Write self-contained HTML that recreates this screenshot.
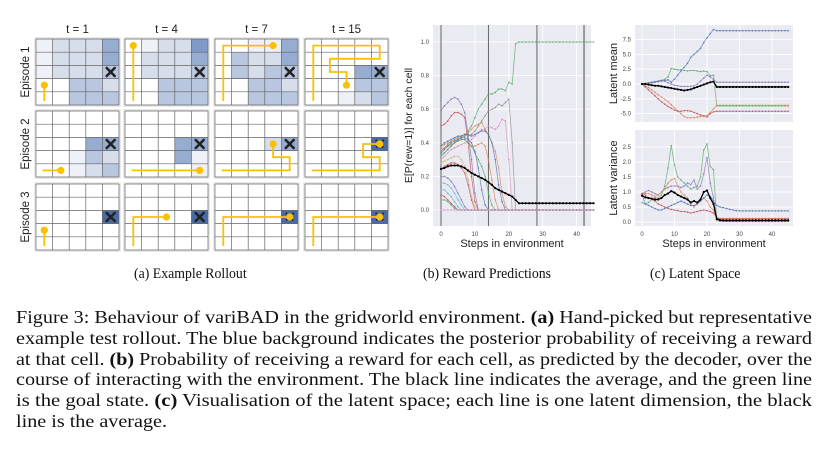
<!DOCTYPE html>
<html><head><meta charset="utf-8">
<style>
body{margin:0;background:#fff;width:827px;height:459px;overflow:hidden;position:relative;font-family:"Liberation Serif",serif}
#cap{position:absolute;left:16px;top:307px;width:796px;color:#111}
.ln{display:block;white-space:nowrap;font-size:18px;line-height:20.8px;height:20.8px;transform-origin:0 0}
.sub{position:absolute;top:266px;font-size:15px;color:#111;white-space:nowrap;transform-origin:0 0;transform:scaleX(0.92)}
</style></head><body>
<svg id="fig" width="827" height="300" style="position:absolute;left:0;top:0" xmlns="http://www.w3.org/2000/svg"></svg>
<div class="sub" style="left:134px">(a) Example Rollout</div>
<div class="sub" style="left:423px">(b) Reward Predictions</div>
<div class="sub" style="left:650px">(c) Latent Space</div>
<div id="cap">
<span class="ln">Figure 3: Behaviour of variBAD in the gridworld environment. <b>(a)</b> Hand-picked but representative</span>
<span class="ln">example test rollout. The blue background indicates the posterior probability of receiving a reward</span>
<span class="ln">at that cell. <b>(b)</b> Probability of receiving a reward for each cell, as predicted by the decoder, over the</span>
<span class="ln">course of interacting with the environment. The black line indicates the average, and the green line</span>
<span class="ln">is the goal state. <b>(c)</b> Visualisation of the latent space; each line is one latent dimension, the black</span>
<span class="ln" data-last="1">line is the average.</span>
</div>
<script>
// ---------- gridworld data ----------
const timeLabels=["t = 1","t = 4","t = 7","t = 15"];
const episodeLabels=["Episode 1","Episode 2","Episode 3"];
const shades=[
 [[[1,2,2,2,4],[1,2,2,2,4],[1,2,2,2,3],[0,0,3,3,2],[0,0,3,3,3]],
  [[0,1,2,2,5],[0,2,2,2,4],[0,2,2,2,3],[0,0,3,3,3],[0,0,3,3,3]],
  [[0,0,1,1,4],[0,3,2,2,4],[0,3,2,3,3],[0,0,3,3,2],[0,0,3,3,3]],
  [[0,0,0,0,0],[0,0,0,0,0],[0,0,0,4,4],[0,0,0,3,3],[0,0,1,2,3]]],
 [[[0,0,0,0,0],[0,0,0,0,0],[0,0,0,4,4],[0,0,1,3,2],[0,0,1,2,3]],
  [[0,0,0,0,0],[0,0,0,0,0],[0,0,0,4,4],[0,0,0,4,1],[0,0,0,0,1]],
  [[0,0,0,0,0],[0,0,0,0,0],[0,0,0,2,4],[0,0,0,0,0],[0,0,0,0,0]],
  [[0,0,0,0,0],[0,0,0,0,0],[0,0,0,0,6],[0,0,0,0,0],[0,0,0,0,0]]],
 [[[0,0,0,0,0],[0,0,0,0,0],[0,0,0,0,6],[0,0,0,0,0],[0,0,0,0,0]],
  [[0,0,0,0,0],[0,0,0,0,0],[0,0,0,0,6],[0,0,0,0,0],[0,0,0,0,0]],
  [[0,0,0,0,0],[0,0,0,0,0],[0,0,0,0,6],[0,0,0,0,0],[0,0,0,0,0]],
  [[0,0,0,0,0],[0,0,0,0,0],[0,0,0,0,6],[0,0,0,0,0],[0,0,0,0,0]]]];
const paths=[
 [[[0.5,4.7],[0.5,3.5]],[[0.5,4.7],[0.5,0.5]],[[0.5,4.7],[0.5,0.5],[3.5,0.5]],
  [[0.5,4.7],[0.5,0.5],[4.5,0.5],[4.5,1.5],[1.5,1.5],[1.5,2.5],[2.5,2.5],[2.5,3.5]]],
 [[[0.4,4.5],[1.5,4.5]],[[0.4,4.5],[4.5,4.5]],[[0.4,4.5],[4.5,4.5],[4.5,3.5],[3.5,3.5],[3.5,2.5]],
  [[0.4,4.5],[4.5,4.5],[4.5,3.5],[3.5,3.5],[3.5,2.5],[4.5,2.5]]],
 [[[0.5,4.7],[0.5,3.5]],[[0.5,4.7],[0.5,2.5],[2.5,2.5]],[[0.5,4.7],[0.5,2.5],[4.5,2.5]],[[0.5,4.7],[0.5,2.5],[4.5,2.5]]]];
const goalCell=[4,2];
const shadeColors=["#ffffff","#eef1f7","#d6ddeb","#b8c6df","#97acd1","#8199c7","#4a6ca6"];

// ---------- reward prediction data ----------
const rewardSeries=[
 {c:"#55a868",v:[0.33,0.34,0.36,0.38,0.40,0.42,0.43,0.44,0.47,0.50,0.55,0.60,0.63,0.66,0.69,0.69,0.70,0.72,0.72,0.71,0.76,0.75,0.99,1.0]},
 {c:"#8172b3",v:[0.59,0.62,0.64,0.66,0.67,0.66,0.63,0.58,0.45,0.30,0.10,0.0]},
 {c:"#c44e52",v:[0.50,0.51,0.53,0.56,0.58,0.58,0.57,0.55,0.40,0.20,0.05,0.0]},
 {c:"#8c8c8c",v:[0.35,0.37,0.39,0.41,0.42,0.43,0.44,0.45,0.44,0.45,0.47,0.50,0.53,0.56,0.59,0.60,0.61,0.63,0.62,0.64,0.66,0.40,0.0]},
 {c:"#da8bc3",v:[0.30,0.32,0.34,0.36,0.37,0.38,0.39,0.40,0.40,0.42,0.44,0.46,0.48,0.48,0.50,0.49,0.48,0.50,0.54,0.53,0.30,0.0]},
 {c:"#dd8452",v:[0.38,0.39,0.40,0.41,0.42,0.43,0.44,0.45,0.46,0.48,0.50,0.51,0.52,0.48,0.45,0.40,0.35,0.25,0.10,0.02,0.0]},
 {c:"#4c72b0",v:[0.38,0.40,0.41,0.42,0.43,0.44,0.44,0.45,0.45,0.44,0.45,0.46,0.47,0.47,0.45,0.40,0.30,0.15,0.05,0.0]},
 {c:"#dd8452",v:[0.36,0.37,0.38,0.39,0.40,0.41,0.42,0.42,0.40,0.38,0.38,0.39,0.40,0.38,0.30,0.18,0.06,0.0]},
 {c:"#55a868",v:[0.32,0.34,0.36,0.38,0.40,0.41,0.42,0.42,0.40,0.38,0.34,0.30,0.26,0.20,0.10,0.03,0.0]},
 {c:"#4c72b0",v:[0.34,0.36,0.38,0.40,0.41,0.42,0.43,0.43,0.42,0.40,0.35,0.25,0.12,0.03,0.0]},
 {c:"#ccb974",v:[0.28,0.29,0.30,0.31,0.32,0.32,0.30,0.26,0.18,0.08,0.02,0.0]},
 {c:"#c44e52",v:[0.24,0.26,0.27,0.28,0.28,0.27,0.25,0.22,0.15,0.06,0.0]},
 {c:"#8172b3",v:[0.20,0.20,0.19,0.17,0.14,0.10,0.06,0.02,0.0]},
 {c:"#64b5cd",v:[0.16,0.16,0.15,0.13,0.10,0.06,0.03,0.0]},
 {c:"#64b5cd",v:[0.12,0.12,0.10,0.08,0.05,0.02,0.0]},
 {c:"#c44e52",v:[0.09,0.08,0.06,0.04,0.02,0.0]},
 {c:"#55a868",v:[0.06,0.06,0.05,0.03,0.01,0.0]},
 {c:"#da8bc3",v:[0.0,0.0]},
 {c:"#000000",v:[0.245,0.25,0.26,0.265,0.265,0.265,0.26,0.25,0.235,0.22,0.21,0.20,0.19,0.18,0.165,0.15,0.13,0.12,0.11,0.10,0.09,0.08,0.06,0.04]}];
const episodeBoundaries=[0,14,28.3,42.2];
const rewardYTicks=[0,0.2,0.4,0.6,0.8,1.0];
const stepTicks=[0,10,20,30,40];

// ---------- latent data ----------
const meanSeries=[
 {c:"#4c72b0",v:[0,0.05,0.1,0.2,0.3,0.4,0.5,0.6,0.7,0.3,0.8,1.5,2.2,2.8,3.5,4.5,5.0,5.5,6.0,7.0,7.8,8.5,9.2,9.0]},
 {c:"#55a868",v:[0,0.1,0.2,0.3,0.4,0.5,0.6,0.8,1.2,2.6,2.5,2.4,2.4,2.3,2.2,2.3,2.3,2.2,2.1,2.2,2.1,1.4,1.5,-3.7]},
 {c:"#8172b3",v:[0,0.1,0.2,0.3,0.4,0.5,0.6,0.5,0.2,0,-0.2,-0.3,-0.4,-0.4,-0.4,-0.4,-0.3,0,0.5,1.0,1.5,1.2,0.8,0.3]},
 {c:"#dd8452",v:[0,-0.3,-0.6,-1.0,-1.4,-1.8,-2.2,-2.6,-3.0,-3.5,-4.0,-4.5,-5.0,-5.5,-5.7,-5.7,-5.7,-5.6,-5.5,-5.4,-5.3,-4.8,-4.2,-3.6]},
 {c:"#c44e52",v:[0,-0.5,-1,-1.5,-2.0,-2.5,-3.0,-3.4,-3.8,-4.1,-4.4,-4.6,-4.6,-4.5,-4.5,-4.6,-4.8,-5.0,-5.2,-5.4,-5.6,-5.0,-4.7,-4.6]},
 {c:"#000000",v:[0,0,-0.1,-0.2,-0.3,-0.3,-0.4,-0.5,-0.6,-0.7,-0.8,-0.9,-1.0,-1.1,-1.0,-0.9,-0.7,-0.5,-0.3,-0.1,0.1,0.3,0.4,-0.5]}];
const varSeries=[
 {c:"#55a868",v:[0.65,0.6,0.65,0.75,0.8,0.8,0.9,1.2,1.8,2.55,1.9,1.5,1.4,1.3,1.2,1.1,1.15,1.2,1.5,2.4,2.6,1.85,1.75,0.05,0.02]},
 {c:"#8172b3",v:[0.95,1.0,1.05,1.0,0.95,0.9,1.0,1.1,1.15,1.2,1.2,1.2,1.15,1.2,1.3,1.25,1.4,1.1,1.2,1.6,2.15,1.3,0.8,0.1]},
 {c:"#dd8452",v:[0.95,0.95,0.95,0.9,0.85,0.9,1.0,1.1,1.3,1.4,1.45,1.2,1.0,0.9,0.8,0.6,0.5,0.6,0.7,0.8,0.7,0.5,0.4,0.15,0.12]},
 {c:"#4c72b0",v:[0.9,0.6,0.55,0.5,0.45,0.4,0.4,0.45,0.5,0.55,0.6,0.65,0.7,0.65,0.6,0.55,0.55,0.6,0.7,0.8,0.9,0.85,0.7,0.55,0.5,0.48,0.45,0.42,0.4,0.38,0.37]},
 {c:"#c44e52",v:[0.95,0.9,0.8,0.75,0.7,0.6,0.55,0.5,0.45,0.42,0.4,0.38,0.35,0.35,0.33,0.3,0.32,0.35,0.38,0.4,0.38,0.35,0.3,0.15,0.1]},
 {c:"#000000",v:[0.88,0.82,0.8,0.78,0.75,0.75,0.8,0.9,0.95,1.03,0.98,0.9,0.85,0.8,0.75,0.65,0.7,0.65,0.75,1.0,1.05,0.8,0.6,0.1,0.06,0.05]}];
const meanYTicks=[-5.0,-2.5,0.0,2.5,5.0,7.5];
const varYTicks=[0.0,0.5,1.0,1.5,2.0,2.5];
const nSteps=46;

const NS="http://www.w3.org/2000/svg";
const svg=document.getElementById('fig');
function mk(tag,attrs,parent){const e=document.createElementNS(NS,tag);for(const k in attrs)e.setAttribute(k,attrs[k]);(parent||svg).appendChild(e);return e;}
function txt(s,attrs,parent){const e=mk('text',attrs,parent);e.textContent=s;return e;}

// caption line fitting
document.querySelectorAll('#cap .ln').forEach(l=>{
 l.style.display='inline-block';
 const w=l.getBoundingClientRect().width;
 l.style.display='block';
 const sx=l.dataset.last?(796/ (document.querySelector('#cap .ln').dataset.w||1)):796/w;
 l.dataset.w=w;
});
(function(){
 const lines=[...document.querySelectorAll('#cap .ln')];
 let s0=1;
 lines.forEach((l,i)=>{
  const w=parseFloat(l.dataset.w);
  const s=l.dataset.last?s0:796/w;
  if(i===0)s0=s;
  l.style.transform=`scaleX(${s})`;
 });
})();

// ---------- draw gridworld ----------
const colX=[36,125,215,305], rowY=[39,111,184], gw=83, gh=66, cw=gw/5, ch=gh/5;
timeLabels.forEach((t,i)=>{
 const e=txt(t,{x:colX[i]+gw/2,y:33,'text-anchor':'middle','font-family':'Liberation Sans, sans-serif','font-size':11.5,fill:'#222'});
 
 
});
episodeLabels.forEach((t,j)=>{
 const e=txt(t,{x:0,y:0,transform:`translate(${29},${rowY[j]+gh/2}) rotate(-90)`,'text-anchor':'middle','font-family':'Liberation Sans, sans-serif','font-size':11.5,fill:'#222'});
 
 
});
for(let j=0;j<3;j++)for(let i=0;i<4;i++){
 const g=mk('g',{});
 
 
 const x0=colX[i],y0=rowY[j];
 mk('rect',{x:x0-1,y:y0-1,width:gw+2,height:gh+2,fill:'none',stroke:'#e4e4e4','stroke-width':1.5},g);
 for(let r=0;r<5;r++)for(let c=0;c<5;c++){
  mk('rect',{x:x0+c*cw,y:y0+r*ch,width:cw,height:ch,fill:shadeColors[shades[j][i][r][c]]},g);
 }
 for(let k=0;k<=5;k++){
  mk('line',{x1:x0+k*cw,y1:y0,x2:x0+k*cw,y2:y0+gh,stroke:'#666','stroke-width':0.7},g);
  mk('line',{x1:x0,y1:y0+k*ch,x2:x0+gw,y2:y0+k*ch,stroke:'#666','stroke-width':0.7},g);
 }
 const gx=x0+(goalCell[0]+0.5)*cw, gy=y0+(goalCell[1]+0.5)*ch;
 const p=paths[j][i]; const last=p[p.length-1];
 const atGoal=Math.abs(last[0]-goalCell[0]-0.5)<0.01&&Math.abs(last[1]-goalCell[1]-0.5)<0.01;
 if(j===0||!atGoal){
  mk('path',{d:`M${gx-4},${gy-4}L${gx+4},${gy+4}M${gx+4},${gy-4}L${gx-4},${gy+4}`,stroke:'#222','stroke-width':2.6,'stroke-linecap':'round'},g);
 } else {
  mk('path',{d:`M${gx-4},${gy-4}L${gx+4},${gy+4}M${gx+4},${gy-4}L${gx-4},${gy+4}`,stroke:'#222','stroke-width':2,'stroke-dasharray':'1.5 1.5'},g);
 }
 const pts=p.map(q=>`${x0+q[0]*cw},${y0+q[1]*ch}`).join(' ');
 const pl=mk('polyline',{points:pts,fill:'none',stroke:'#fbc000','stroke-width':1.8},g);
 
 
 const d=mk('circle',{cx:x0+last[0]*cw,cy:y0+last[1]*ch,r:3.6,fill:'#fbc000'},g);
 
 
}

// ---------- generic line chart ----------
function padSeries(v){const out=v.slice();while(out.length<nSteps)out.push(v[v.length-1]);return out;}
function chart(o){
 const g=mk('g',{});
 
 
 mk('rect',{x:o.x0,y:o.y0,width:o.x1-o.x0,height:o.y1-o.y0,fill:'#eaeaf2'},g);
 const xs=s=>o.sx0+s*o.kx, ys=v=>o.vy0-v*o.ky;
 o.yt.forEach(t=>{
  mk('line',{x1:o.x0,x2:o.x1,y1:ys(t),y2:ys(t),stroke:'#fff','stroke-width':0.9},g);
  const e=txt(t.toFixed(1),{x:o.x0-4,y:ys(t)+2,'text-anchor':'end','font-family':'Liberation Sans, sans-serif','font-size':6,fill:'#444'},g);
  
  
 });
 stepTicks.forEach(t=>{
  mk('line',{x1:xs(t),x2:xs(t),y1:o.y0,y2:o.y1,stroke:'#fff','stroke-width':0.9},g);
  if(o.xlab){
   const e=txt(String(t),{x:xs(t),y:o.y1+10,'text-anchor':'middle','font-family':'Liberation Sans, sans-serif','font-size':6,fill:'#444'},g);
   
   
  }
 });
 if(o.vlines)o.vlines.forEach((b,k)=>{
  const l=mk('line',{x1:xs(b),x2:xs(b),y1:o.y0,y2:o.y1,stroke:k===3?'#999':'#666','stroke-width':k===3?2:1},g);
  
  
 });
 o.series.forEach(s=>{
  const v=padSeries(s.v);
  const blk=s.c==='#000000';
  const pl=mk('polyline',{points:v.map((y,i)=>`${xs(i)},${ys(y)}`).join(' '),fill:'none',stroke:s.c,'stroke-width':blk?1.3:0.8,opacity:blk?1:0.75},g);
  
  
  v.forEach((y,i)=>{mk('circle',{cx:xs(i),cy:ys(y),r:blk?1.1:0.8,fill:s.c,opacity:blk?1:0.8},g);});
 });
 const yl=txt(o.ylabel,{x:0,y:0,transform:`translate(${o.ylx},${(o.y0+o.y1)/2}) rotate(-90)`,'text-anchor':'middle','font-family':'Liberation Sans, sans-serif','font-size':o.ylfs||11,fill:'#222'},g);
 
 
 if(o.xlab){
  const xl=txt('Steps in environment',{x:(o.x0+o.x1)/2,y:o.y1+21,'text-anchor':'middle','font-family':'Liberation Sans, sans-serif','font-size':11,fill:'#222'},g);
  
  
 }
}
chart({name:'reward-prediction-chart',x0:433,x1:591,y0:25,y1:226,sx0:441,kx:3.39,vy0:210,ky:168,yt:rewardYTicks,series:rewardSeries,vlines:episodeBoundaries,ylabel:'E[P(rew=1)] for each cell',ylx:412,ylfs:10.5,xlab:true});
chart({name:'latent-mean-chart',x0:635,x1:793,y0:25,y1:122,sx0:642,kx:3.25,vy0:84,ky:5.92,yt:meanYTicks,series:meanSeries,ylabel:'Latent mean',ylx:617,xlab:false});
chart({name:'latent-variance-chart',x0:635,x1:793,y0:130,y1:226,sx0:642,kx:3.25,vy0:222,ky:30,yt:varYTicks,series:varSeries,ylabel:'Latent variance',ylx:617,xlab:true});
</script>
</body></html>
